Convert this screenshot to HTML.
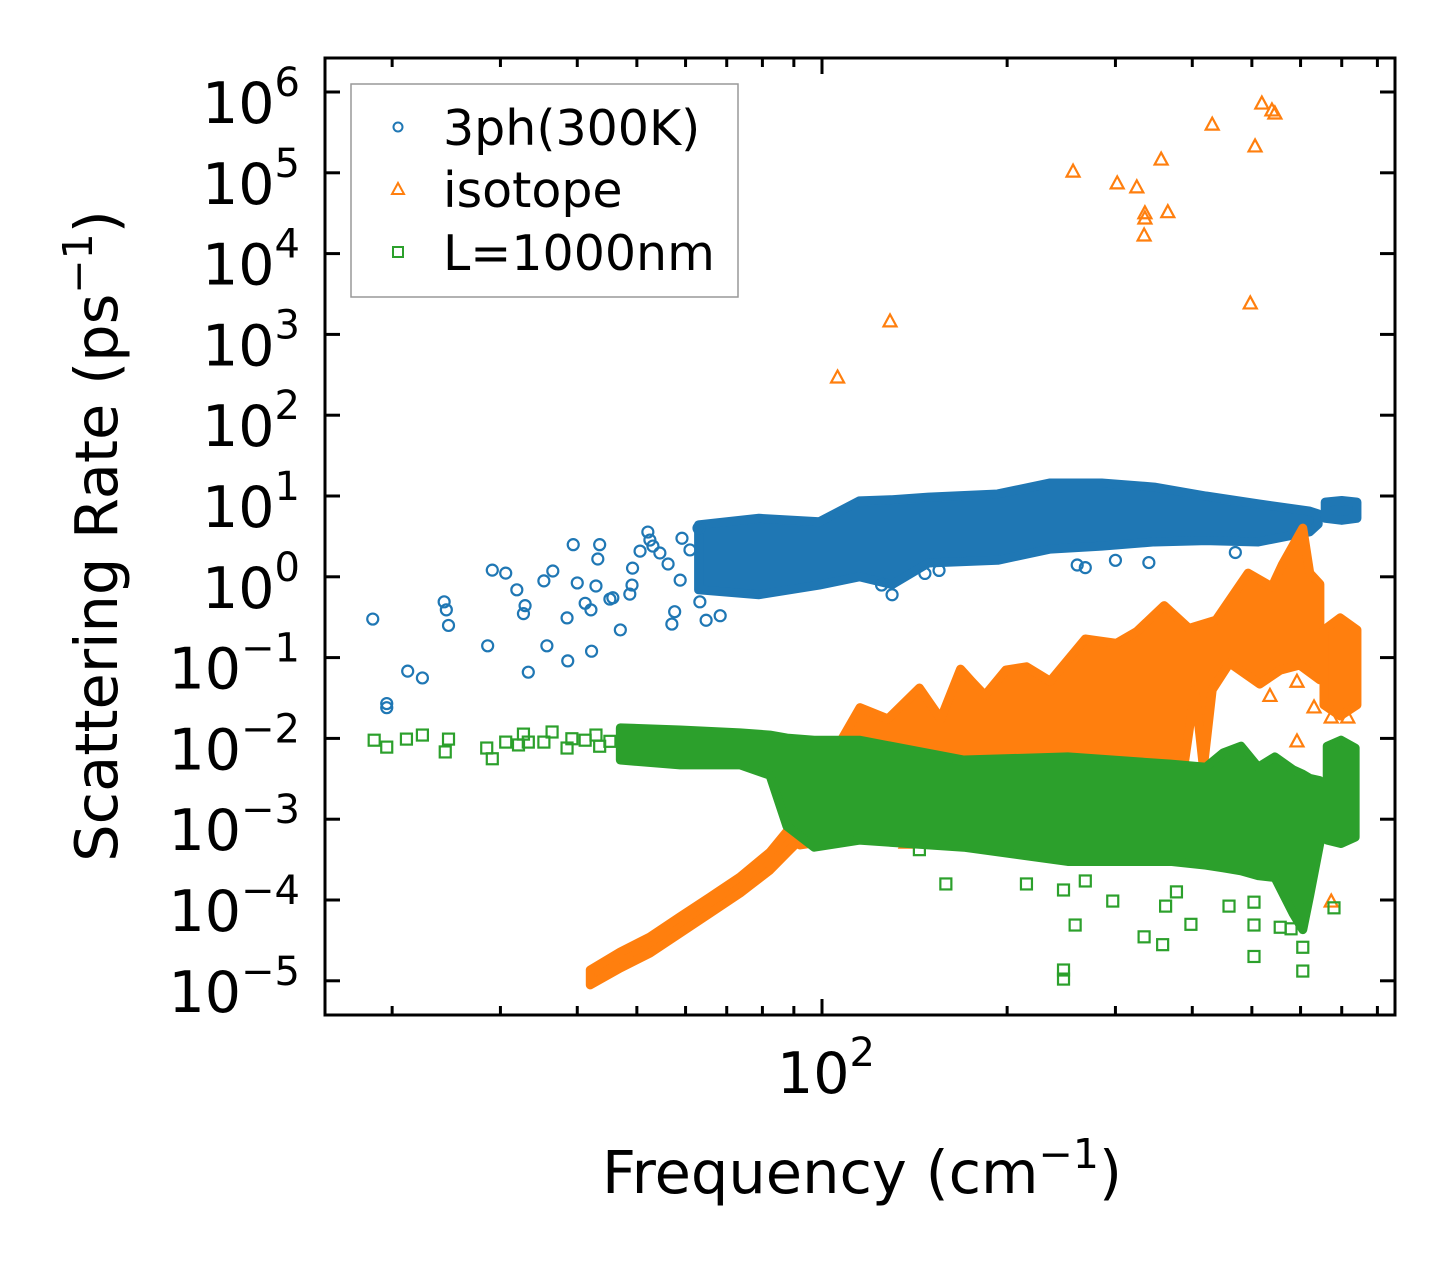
<!DOCTYPE html>
<html><head><meta charset="utf-8">
<style>
html,body{margin:0;padding:0;background:#fff;}
svg text{font-family:"DejaVu Sans","Liberation Sans",sans-serif;fill:#000;}
</style></head>
<body>
<svg id="chart" width="1455" height="1265" viewBox="0 0 1455 1265" xmlns="http://www.w3.org/2000/svg">
<rect x="0" y="0" width="1455" height="1265" fill="#fff"/>
<g id="plot"></g>
<g id="axes"></g>
<g id="legend">
  <rect x="351" y="84" width="387" height="213" fill="#fff" fill-opacity="0.8" stroke="#999" stroke-width="1.5"/>
  <circle cx="398" cy="127" r="4.5" fill="none" stroke="#1f77b4" stroke-width="2"/>
  <text x="443" y="145" font-size="49">3ph(300K)</text>
  <path d="M398,183 L404,194 L392,194 Z" fill="none" stroke="#ff7f0e" stroke-width="2"/>
  <text x="443" y="207" font-size="49">isotope</text>
  <rect x="393" y="247" width="10" height="10" fill="none" stroke="#2ca02c" stroke-width="2"/>
  <text x="443" y="270" font-size="49">L=1000nm</text>
</g>
<text x="862" y="1193" font-size="59" text-anchor="middle">Frequency (cm<tspan dy="-25" font-size="41">−1</tspan><tspan dy="25">)</tspan></text>
<text transform="translate(117,536) rotate(-90)" font-size="59" text-anchor="middle">Scattering Rate (ps<tspan dy="-25" font-size="41">−1</tspan><tspan dy="25">)</tspan></text>
</svg>
<script>
// ---- data (frequency cm^-1, rate ps^-1) ----
const blueSparseF = [18.6,19.6,19.6,21.2,22.4,24.3,24.5,24.7,28.6,29.1,30.6,31.9,32.7,32.9,33.3,35.3,35.7,36.5,38.5,38.6,39.4,40.0,41.2,42.1,42.2,42.9,43.2,43.5,45.2,45.7,47.0,48.7,49.1,49.2,50.6,52.1,52.5,53.1,54.5,56.2,57.0,57.6,58.8,59.2,61.0,63.1,63.3,64.8,68.3,125,130,147,155,260,268,300,340,470];
const blueSparseV = [0.30,0.027,0.024,0.068,0.056,0.49,0.39,0.25,0.14,1.21,1.11,0.69,0.35,0.44,0.066,0.89,0.14,1.18,0.31,0.091,2.5,0.84,0.47,0.39,0.12,0.77,1.66,2.5,0.53,0.55,0.22,0.61,0.79,1.28,2.08,3.58,2.85,2.4,1.97,1.44,0.26,0.37,0.91,3.0,2.15,4.0,0.49,0.29,0.33,0.79,0.6,1.1,1.2,1.4,1.3,1.6,1.5,2.0];
const blueBandF  = [63,79,99,115,130,149,193,235,285,347,421,512,621,641];
const blueBandHi = [4.4,5.3,4.8,8.7,9.0,9.7,10.6,14.5,14.5,12.9,10,8,6.5,6];
const blueBandLo = [0.69,0.60,0.79,1.0,0.8,1.48,1.6,2.2,2.4,2.7,2.8,2.7,3.6,4.5];
const blueBand2F  = [658,700,741];
const blueBand2Hi = [8.4,8.8,8.4];
const blueBand2Lo = [5.3,5.0,5.3];

const orangeSparseF = [106,129,256,302,325,335,335,334,356,365,431,497,506,519,539,545,592,631,673,716,592,137,535,673,716];
const orangeSparseV = [297,1470,1.05e5,7.5e4,6.7e4,2.76e4,3.2e4,1.7e4,1.48e5,3.3e4,4.0e5,2450,2.15e5,7.3e5,6.0e5,5.5e5,9.3e-3,2.45e-2,1.84e-2,1.84e-2,5.1e-2,5.2e-4,3.4e-2,9.7e-5,5.4e-3];
const orangeBranchF  = [42.0,47.0,52.5,58.8,65.8,73.6,82.3,88.7,93.8];
const orangeBranchHi = [1.36e-5,2.27e-5,3.48e-5,6.2e-5,1.09e-4,1.93e-4,3.9e-4,7.8e-4,1.5e-3];
const orangeBranchLo = [8.9e-6,1.44e-5,2.2e-5,3.9e-5,6.9e-5,1.22e-4,2.35e-4,4.2e-4,6.4e-4];
const orangeTopF = [92.1,103,115.3,128,144,156,168,175,184,199,215,235,268,301,325,360,395,437,493,539,560,605,621,645];
const orangeTopV = [8.5e-4,5.4e-3,2.4e-2,1.74e-2,4.2e-2,1.74e-2,7.2e-2,5.1e-2,3.4e-2,7.0e-2,7.7e-2,5.1e-2,0.17,0.15,0.21,0.44,0.23,0.29,1.11,0.75,1.4,4.0,1.11,0.81];
const orangeBotF = [92.1,134,283,389,404,417,431,460,515,556,598,645];
const orangeBotV = [4.8e-4,7.3e-4,1.73e-3,5.4e-3,4.0e-2,4.4e-3,4.0e-2,8.6e-2,4.7e-2,7.0e-2,8.1e-2,5.3e-2];
const orangeBand2F  = [655,696,741];
const orangeBand2Hi = [0.22,0.31,0.22];
const orangeBand2Lo = [0.026,0.019,0.026];

const greenSparseF = [18.7,19.6,21.1,22.4,24.4,24.7,28.5,29.1,30.6,32.1,32.7,33.3,35.3,36.4,38.5,39.2,41.2,42.9,43.5,45.2,159,215,247,258,247,247,297,334,358,362,398,459,504,504,556,579,605,605,680,377,268,144,504];
const greenSparseV = [9.5e-3,7.8e-3,9.8e-3,1.1e-2,6.8e-3,9.8e-3,7.6e-3,5.6e-3,9.0e-3,8.3e-3,1.13e-2,9.0e-3,9.0e-3,1.2e-2,7.6e-3,9.9e-3,9.5e-3,1.1e-2,8.0e-3,9.2e-3,1.58e-4,1.58e-4,1.33e-4,4.9e-5,1.36e-5,1.05e-5,9.7e-5,3.5e-5,2.8e-5,8.4e-5,5.0e-5,8.4e-5,2.0e-5,4.9e-5,4.6e-5,4.4e-5,1.32e-5,2.6e-5,8.0e-5,1.26e-4,1.72e-4,4.2e-4,9.4e-5];
const greenBandF  = [47.0,58.8,73.6,82.3,87.7,97.1,115,170,251,369,421,449,480,512,545,583,605,621,645];
const greenBandHi = [1.35e-2,1.27e-2,1.17e-2,1.10e-2,1.01e-2,9.5e-3,9.5e-3,5.4e-3,5.9e-3,4.8e-3,4.4e-3,6.6e-3,8.0e-3,4.4e-3,5.9e-3,4.1e-3,3.6e-3,3.2e-3,3.0e-3];
const greenBandLo = [5.4e-3,4.7e-3,4.7e-3,3.5e-3,8.2e-4,4.5e-4,5.5e-4,4.5e-4,3.0e-4,3.0e-4,2.7e-4,2.5e-4,2.3e-4,2.0e-4,1.9e-4,6.9e-5,4.3e-5,1.15e-4,5.1e-4];
const greenBand2F  = [663,698,736];
const greenBand2Hi = [8.0e-3,9.5e-3,7.6e-3];
const greenBand2Lo = [5.5e-4,5.0e-4,6.0e-4];

const yTickExps = [6,5,4,3,2,1,0,-1,-2,-3,-4,-5];
const xMinorTicks = [20,30,40,50,60,70,80,90,200,300,400,500,600,700,800];
const xMajorTicks = [100];

// ---- scales ----
const PL=325, PR=1395, PT=58, PB=1015;
const sx = f => 822 + 615*(Math.log10(f)-2);
const sy = v => 92 + (6-Math.log10(v))*80.8;
const NS='http://www.w3.org/2000/svg';
const plot=document.getElementById('plot');
const axes=document.getElementById('axes');
const BLUE='#1f77b4', ORANGE='#ff7f0e', GREEN='#2ca02c';

function band(F,Hi,Lo,color,name){
  let pts=[];
  for(let i=0;i<F.length;i++) pts.push(sx(F[i])+','+sy(Hi[i]));
  for(let i=F.length-1;i>=0;i--) pts.push(sx(F[i])+','+sy(Lo[i]));
  const p=document.createElementNS(NS,'polygon');
  p.setAttribute('points',pts.join(' '));
  p.setAttribute('fill',color);p.setAttribute('stroke',color);
  p.setAttribute('stroke-width','9');p.setAttribute('stroke-linejoin','round');
  
  
  plot.appendChild(p);
}
function band2(TF,TV,BF,BV,color,name){
  let pts=[];
  for(let i=0;i<TF.length;i++) pts.push(sx(TF[i])+','+sy(TV[i]));
  for(let i=BF.length-1;i>=0;i--) pts.push(sx(BF[i])+','+sy(BV[i]));
  const p=document.createElementNS(NS,'polygon');
  p.setAttribute('points',pts.join(' '));
  p.setAttribute('fill',color);p.setAttribute('stroke',color);
  p.setAttribute('stroke-width','9');p.setAttribute('stroke-linejoin','round');
  
  
  plot.appendChild(p);
}
function marker(kind,f,v,color){
  const x=sx(f), y=sy(v); let el;
  if(kind==='o'){el=document.createElementNS(NS,'circle');el.setAttribute('cx',x);el.setAttribute('cy',y);el.setAttribute('r',5.5);}
  else if(kind==='^'){el=document.createElementNS(NS,'path');el.setAttribute('d',`M${x},${y-6.5} L${x+6.5},${y+5.5} L${x-6.5},${y+5.5} Z`);}
  else {el=document.createElementNS(NS,'rect');el.setAttribute('x',x-5.5);el.setAttribute('y',y-5.5);el.setAttribute('width',11);el.setAttribute('height',11);}
  el.setAttribute('fill','none');el.setAttribute('stroke',color);el.setAttribute('stroke-width','2.2');
  
  
  plot.appendChild(el);
}
// blue
band(blueBandF,blueBandHi,blueBandLo,BLUE,'band-3ph');
band(blueBand2F,blueBand2Hi,blueBand2Lo,BLUE,'band-3ph-high');
blueSparseF.forEach((f,i)=>marker('o',f,blueSparseV[i],BLUE));
// orange
band(orangeBranchF,orangeBranchHi,orangeBranchLo,ORANGE,'band-isotope-low');
band2(orangeTopF,orangeTopV,orangeBotF,orangeBotV,ORANGE,'band-isotope');
band(orangeBand2F,orangeBand2Hi,orangeBand2Lo,ORANGE,'band-isotope-high');
orangeSparseF.forEach((f,i)=>marker('^',f,orangeSparseV[i],ORANGE));
// green
band(greenBandF,greenBandHi,greenBandLo,GREEN,'band-boundary');
band(greenBand2F,greenBand2Hi,greenBand2Lo,GREEN,'band-boundary-high');
greenSparseF.forEach((f,i)=>marker('s',f,greenSparseV[i],GREEN));

// axes frame
function line(x1,y1,x2,y2,w,name){
  const l=document.createElementNS(NS,'line');
  l.setAttribute('x1',x1);l.setAttribute('y1',y1);l.setAttribute('x2',x2);l.setAttribute('y2',y2);
  l.setAttribute('stroke','#000');l.setAttribute('stroke-width',w);
  
  
  axes.appendChild(l);
}
const fr=document.createElementNS(NS,'rect');
fr.setAttribute('x',PL);fr.setAttribute('y',PT);fr.setAttribute('width',PR-PL);fr.setAttribute('height',PB-PT);
fr.setAttribute('fill','none');fr.setAttribute('stroke','#000');fr.setAttribute('stroke-width','3');


axes.appendChild(fr);
yTickExps.forEach(e=>{
  const y=sy(Math.pow(10,e));
  line(PL,y,PL+15,y,3,'y-tick');
  line(PR-15,y,PR,y,3,'y-tick-right');
  const t=document.createElementNS(NS,'text');
  t.setAttribute('x',300);t.setAttribute('y',y+31);t.setAttribute('font-size','57');t.setAttribute('text-anchor','end');
  const exp = e<0 ? '\u2212'+(-e) : String(e);
  t.innerHTML='10<tspan dy="-27" font-size="40">'+exp+'</tspan>';
  
  
  axes.appendChild(t);
});
xMinorTicks.forEach(f=>{
  const x=sx(f);
  line(x,PB,x,PB-9,3,'x-minor-tick');
  line(x,PT,x,PT+9,3,'x-minor-tick-top');
});
xMajorTicks.forEach(f=>{
  const x=sx(f);
  line(x,PB,x,PB-16,3,'x-major-tick');
  line(x,PT,x,PT+16,3,'x-major-tick-top');
  const t=document.createElementNS(NS,'text');
  t.setAttribute('x',x+4);t.setAttribute('y',1093);t.setAttribute('font-size','57');t.setAttribute('text-anchor','middle');
  t.innerHTML='10<tspan dy="-27" font-size="40">2</tspan>';
  
  
  axes.appendChild(t);
});
</script>
</body></html>
